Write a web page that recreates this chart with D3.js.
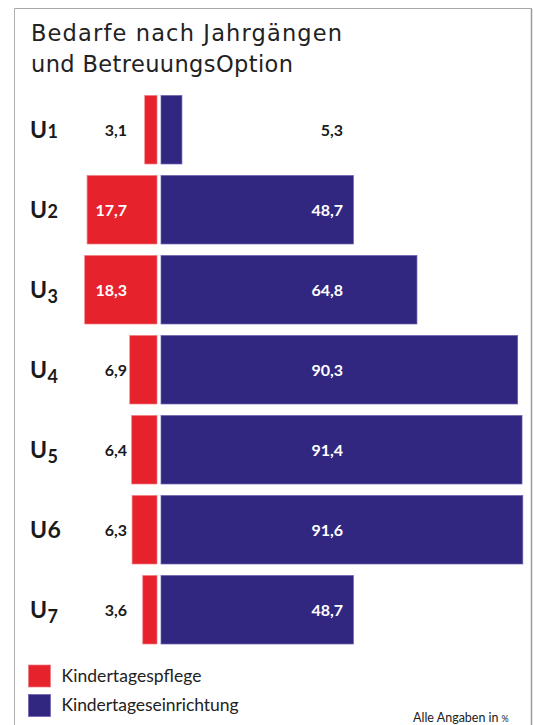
<!DOCTYPE html>
<html><head><meta charset="utf-8">
<script src="https://cdn.jsdelivr.net/npm/d3@7"></script>
<style>
html,body{margin:0;padding:0;background:#fff;}
svg{display:block;}
</style></head>
<body>
<svg id="c" width="533" height="725"></svg>
<script>
const categories = ["U1","U2","U3","U4","U5","U6","U7"];
const pflege = [3.1,17.7,18.3,6.9,6.4,6.3,3.6];
const einrichtung = [5.3,48.7,64.8,90.3,91.4,91.6,48.7];
const seriesNames = ["Kindertagespflege","Kindertageseinrichtung"];
const titleLines = ["Bedarfe nach Jahrgängen","und BetreuungsOption"];
const note = "Alle Angaben in";

const RED = "#e6232c", BLUE = "#312781";
const svg = d3.select("#c");
const font = "Lato, 'Open Sans', sans-serif";

// frame
svg.append("line").attr("x1",14.5).attr("y1",8.5).attr("x2",531.5).attr("y2",8.5).attr("stroke","#a8a8a8");
svg.append("line").attr("x1",14.5).attr("y1",8.5).attr("x2",14.5).attr("y2",725).attr("stroke","#b0b0b0");
svg.append("line").attr("x1",531.5).attr("y1",8.5).attr("x2",531.5).attr("y2",725).attr("stroke","#9a9a9a").attr("stroke-width",1.5);

// title: fit width with font size (capped), then spacing
const titleTargets = [311, 262];
svg.selectAll("text.title").data(titleLines).join("text")
  .attr("class","title")
  .attr("x",31).attr("y",(d,i)=>40.5+i*31)
  .attr("font-family","'DejaVu Sans', sans-serif").attr("font-size",20).attr("fill","#222")
  .text(d=>d)
  .each(function(d,i){
    const w = this.getComputedTextLength();
    const fs = Math.min(20*titleTargets[i]/w, 22.5);
    d3.select(this).attr("font-size",fs);
  })
  .attr("textLength",(d,i)=>titleTargets[i]).attr("lengthAdjust","spacing");

const y = d3.scaleBand().domain(categories).range([95.5, 644]).paddingInner(0.144).paddingOuter(0);
const xBlue = d3.scaleLinear().domain([0,100]).range([161, 556]);
const xRed = d3.scaleLinear().domain([0,100]).range([157, -238]);

const rows = svg.append("g").selectAll("g").data(categories).join("g");

// red bars
rows.append("rect")
  .attr("x",(d,i)=>xRed(pflege[i])).attr("y",d=>y(d))
  .attr("width",(d,i)=>xRed(0)-xRed(pflege[i])).attr("height",y.bandwidth())
  .attr("fill",RED).attr("stroke","#f07a80").attr("stroke-width",0.7);
// blue bars
rows.append("rect")
  .attr("x",xBlue(0)).attr("y",d=>y(d))
  .attr("width",(d,i)=>xBlue(einrichtung[i])-xBlue(0)).attr("height",y.bandwidth())
  .attr("fill",BLUE).attr("stroke","#6a60b0").attr("stroke-width",0.7);

// category labels with old-style-like digits
const cat = rows.append("text")
  .attr("x",30).attr("y",d=>y(d)+y.bandwidth()/2+8.5)
  .attr("font-family",font).attr("font-weight",700).attr("font-size",23).attr("fill","#1a1a1a");
cat.append("tspan").text(d=>d[0]);
cat.append("tspan")
  .attr("font-size",d=>"6".includes(d[1])?23:18)
  .attr("dy",d=>"3457".includes(d[1])?5:0)
  .attr("dx",0.5)
  .text(d=>d[1]);

const fmt = v => String(v).replace(".",",");

// red value labels
rows.append("text")
  .attr("x",127).attr("y",d=>y(d)+y.bandwidth()/2+6)
  .attr("text-anchor","end")
  .attr("font-family",font).attr("font-weight",700).attr("font-size",16)
  .text((d,i)=>fmt(pflege[i]))
  .attr("fill",function(d,i){ const w=this.getComputedTextLength(); return xRed(pflege[i]) < 127-w-3 ? "#fff" : "#1a1a1a"; });

// blue value labels
rows.append("text")
  .attr("x",343).attr("y",d=>y(d)+y.bandwidth()/2+6)
  .attr("text-anchor","end")
  .attr("font-family",font).attr("font-weight",700).attr("font-size",16)
  .text((d,i)=>fmt(einrichtung[i]))
  .attr("fill",(d,i)=> xBlue(einrichtung[i]) > 346 ? "#fff" : "#1a1a1a");

// legend
const leg = svg.append("g").selectAll("g").data(seriesNames).join("g")
  .attr("transform",(d,i)=>`translate(28.5,${665+i*29.5})`);
leg.append("rect").attr("width",22).attr("height",22)
  .attr("fill",(d,i)=>i===0?RED:BLUE)
  .attr("stroke",(d,i)=>i===0?"#f07a80":"#6a60b0").attr("stroke-width",0.7);
leg.append("text").attr("x",33).attr("y",16.5)
  .attr("font-family",font).attr("font-size",17.5).attr("fill","#222")
  .attr("textLength",(d,i)=>i===0?140:177).attr("lengthAdjust","spacing")
  .text(d=>d);

// note
const nt = svg.append("text").attr("x",413).attr("y",721.5)
  .attr("font-family",font).attr("font-size",12.5).attr("fill","#222");
nt.append("tspan").text(note);
nt.append("tspan").attr("font-size",9).attr("dx",3).text("%");
</script>
</body></html>
